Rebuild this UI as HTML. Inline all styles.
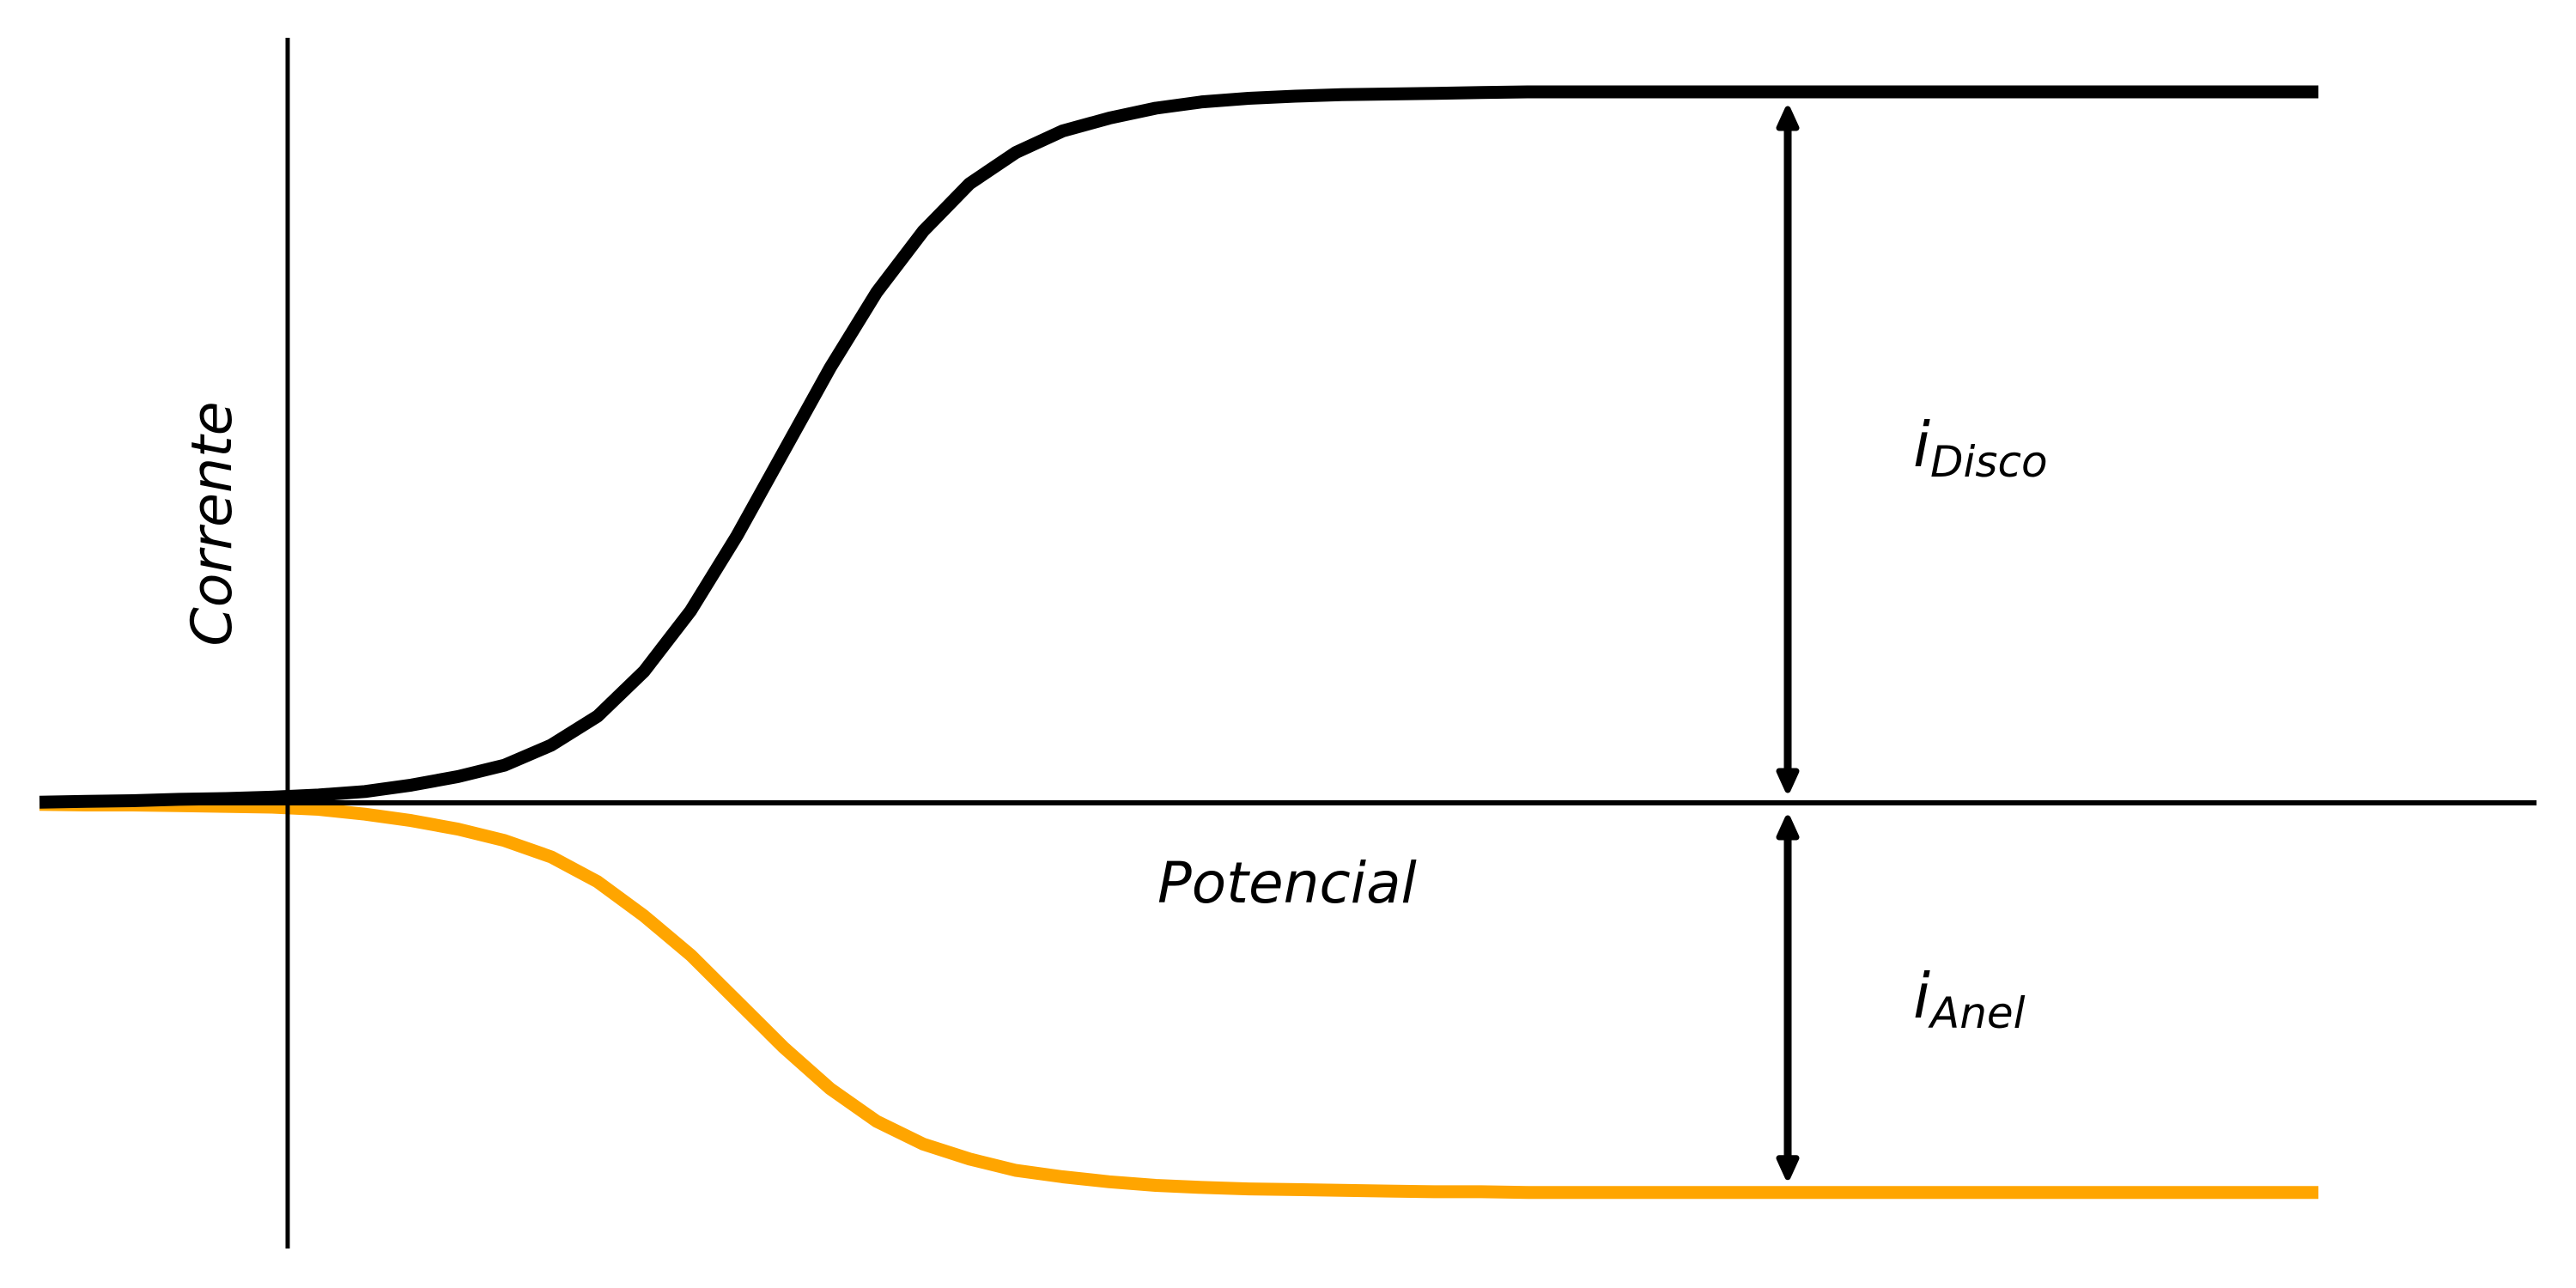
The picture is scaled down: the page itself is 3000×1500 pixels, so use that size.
<!DOCTYPE html>
<html><head><meta charset="utf-8"><style>
html,body{margin:0;padding:0;background:#fff;}
svg{display:block;}
text{font-family:"DejaVu Sans","Liberation Sans",sans-serif;font-style:oblique;fill:#000;}
</style></head><body>
<svg id="chart" width="3000" height="1500" viewBox="0 0 3000 1500" xmlns="http://www.w3.org/2000/svg">
<g id="curves"></g>
<line x1="46" y1="935" x2="2954" y2="935" stroke="#000" stroke-width="6"/>
<line x1="335" y1="44" x2="335" y2="1454" stroke="#000" stroke-width="5"/>
<g id="arrows"></g>
<text x="0" y="0" font-size="65" text-anchor="middle" transform="translate(269,610) rotate(-90)">Corrente</text>
<text x="1348" y="1051" font-size="66">Potencial</text>
<text x="2228" y="543" font-size="72">i<tspan font-size="50" dy="12">Disco</tspan></text>
<text x="2228" y="1185" font-size="72">i<tspan font-size="50" dy="12">Anel</tspan></text>
</svg>
<script>
const potentialIdx = Array.from({length:50},(_,k)=>k);
const discoCurrent = [0.001,0.002,0.003,0.005,0.006,0.008,0.011,0.016,0.025,0.037,0.053,0.081,0.122,0.185,0.27,0.376,0.494,0.612,0.718,0.804,0.871,0.915,0.945,0.963,0.977,0.986,0.991,0.994,0.996,0.997,0.998,0.999,1,1,1,1,1,1,1,1,1,1,1,1,1,1,1,1,1,1];
const anelCurrent = [-0.002,-0.003,-0.003,-0.004,-0.005,-0.006,-0.009,-0.016,-0.025,-0.037,-0.053,-0.076,-0.111,-0.159,-0.214,-0.279,-0.344,-0.402,-0.448,-0.480,-0.501,-0.517,-0.526,-0.533,-0.538,-0.541,-0.543,-0.544,-0.545,-0.546,-0.547,-0.547,-0.548,-0.548,-0.548,-0.548,-0.548,-0.548,-0.548,-0.548,-0.548,-0.548,-0.548,-0.548,-0.548,-0.548,-0.548,-0.548,-0.548,-0.548];
const arrowDiscoRange = [1, 0];
const arrowAnelRange = [0, -0.548];
const arrowX = 37.59;

const NS='http://www.w3.org/2000/svg';
const xs = v => 46 + v*(2700-46)/49;
const ys = v => 935 - v*828;
const curves = document.getElementById('curves');
function series(vals, color, name){
  const p=document.createElementNS(NS,'polyline');
  p.setAttribute('points', vals.map((v,i)=>xs(potentialIdx[i]).toFixed(1)+','+ys(v).toFixed(1)).join(' '));
  p.setAttribute('fill','none');p.setAttribute('stroke',color);p.setAttribute('stroke-width','15');
  p.setAttribute('stroke-linejoin','round');
  
  
  curves.appendChild(p);
}
series(anelCurrent,'#FFA500','ring-current-line');
series(discoCurrent,'#000','disk-current-line');

const arrows=document.getElementById('arrows');
function dblArrow(range, name, padTop, padBot){
  const x=xs(arrowX);
  let y1=ys(range[0])+padTop, y2=ys(range[1])-padBot;
  const g=document.createElementNS(NS,'g');
  
  
  const l=document.createElementNS(NS,'line');
  l.setAttribute('x1',x);l.setAttribute('x2',x);l.setAttribute('y1',y1+10);l.setAttribute('y2',y2-10);
  l.setAttribute('stroke','#000');l.setAttribute('stroke-width','9');
  g.appendChild(l);
  [[y1,1],[y2,-1]].forEach(([ty,d])=>{
    const h=document.createElementNS(NS,'path');
    h.setAttribute('d',`M${x-10},${ty+d*22} L${x},${ty} L${x+10},${ty+d*22} Z`);
    h.setAttribute('fill','#000');h.setAttribute('stroke','#000');h.setAttribute('stroke-width','7');h.setAttribute('stroke-linejoin','round');
    g.appendChild(h);
  });
  arrows.appendChild(g);
}
dblArrow(arrowDiscoRange,'disk-current-arrow',20,15);
dblArrow(arrowAnelRange,'ring-current-arrow',18,18);
</script>
</body></html>
